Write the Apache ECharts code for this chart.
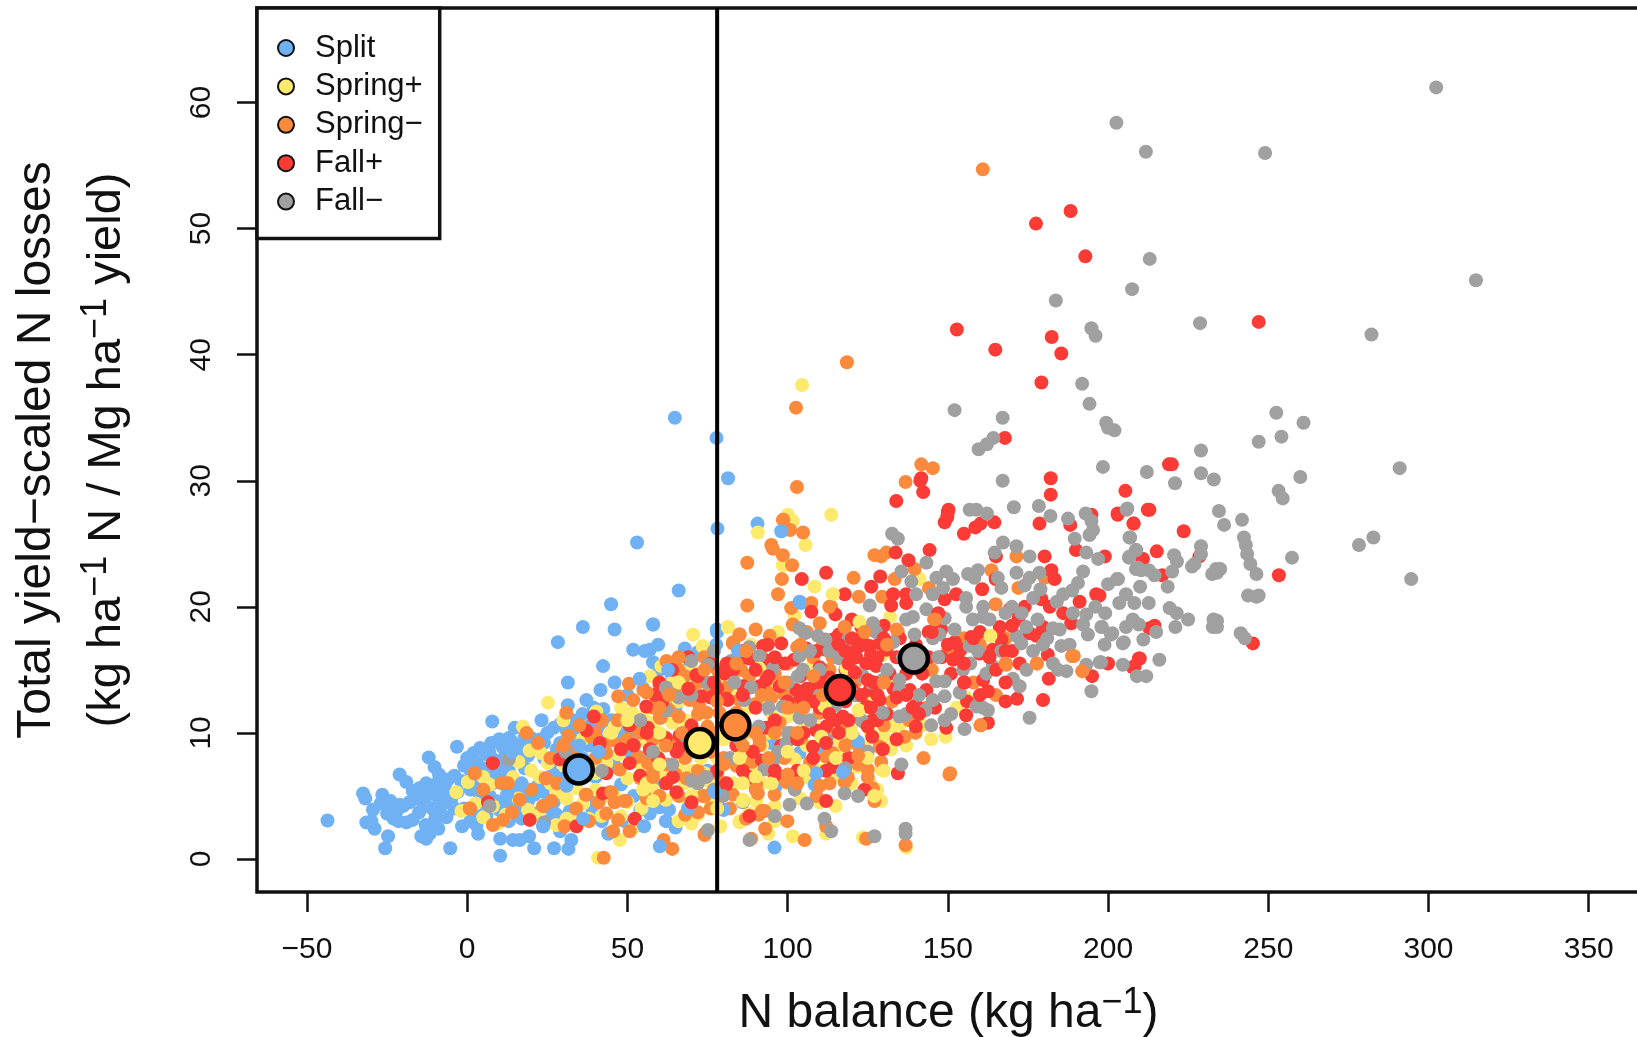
<!DOCTYPE html>
<html><head><meta charset="utf-8">
<style>html,body{margin:0;padding:0;background:#fff;overflow:hidden}#c{width:1637px;height:1037px}</style>
<script src="https://cdn.jsdelivr.net/npm/echarts@6/dist/echarts.min.js"></script>
</head><body><div id="c"></div>
<script>
const xTicks=[-50,0,50,100,150,200,250,300,350];
const yTicks=[0,10,20,30,40,50,60];
const nBalanceThreshold=78;
const seriesNames=['Split','Spring+','Spring−','Fall+','Fall−'];
const means=[[34.8,7.1],[72.6,9.2],[83.7,10.6],[116.3,13.4],[139.4,15.9]];
const split=[[-43.6,3.05],[-32.5,5.2],[-31.8,4.8],[-31.5,2.9],[-28.9,2.4],[-29.9,3],[-26.5,5.1],[-29.4,3.9],[-24.7,1.8],[-25.6,.85],[-21.1,6.7],[-19,6.1],[-21,4.3],[-22,3.8],[-20,4.2],[-18,4.5],[-23,3.2],[-19,2.9],[-17,3.1],[-21.5,3],[-16,4.8],[-14,4.6],[-15,3.7],[-12.8,6],[-12,8.05],[-10.2,7.3],[-8.8,6.7],[-3.2,8.9],[-5.3,.85],[-12.8,1.6],[-14.3,1.8],[-11.7,2],[-13,2.7],[-9,2.4],[-8,3.5],[-11,4],[-9.5,5],[-7,5.7],[-6,6.3],[-4,6.6],[-12,5.2],[-10,5.9],[-7.5,4.4],[-5,4.7],[-3,5.3],[-6.5,3.3],[-1.6,2.6],[3.4,2],[2.9,2.7],[10.3,1.6],[14.3,1.5],[16.4,1.5],[19.3,1.8],[10.3,.25],[20.9,.85],[27.1,.85],[31.6,.8],[32.5,1.5],[23.7,2.6],[7.8,10.9],[23.2,11],[14.8,10.4],[7.5,9.2],[10,9.5],[13,9.6],[28.3,17.2],[36.1,18.4],[46,18.2],[58,18.6],[51.8,16.6],[55.4,16.5],[57,16.6],[59.6,17],[67.9,16.7],[68.9,15.8],[42.4,15.3],[31.4,14],[41.6,13.4],[31.4,12.2],[37.2,12.6],[39.5,12],[42.5,11.9],[0,8],[2,8.4],[3,7.6],[5,7.1],[4,6],[1,5.5],[6,8.3],[9,7.8],[12,8.4],[15,8],[17,9],[20,9.6],[22,9.4],[25,10],[27,10.4],[29,10.7],[32,9.5],[34,9],[36,8],[38,9],[28,8.7],[24,8],[18,7.2],[13,7],[10,6.7],[8,6],[7,5],[5,4.2],[3,3.6],[10,3.9],[12,4.4],[15,4],[18,5.5],[21,5.1],[24,5.3],[26,4],[28,3.5],[30,6.4],[33,5.8],[36,3.2],[38,5],[40,6.5],[44,9.6],[47,9.8],[50,8.6],[53,7.8],[48,5.9],[54,3.9],[57,3.6],[60,4.1],[63,3.9],[64.8,35],[77.8,33.4],[81.4,30.2],[78.1,26.2],[53,25.1],[66,21.3],[44.9,20.2],[104.2,20.3],[58,18.6],[78,18],[77.9,18.2],[77.7,17],[90.6,26.6],[72,16.4],[65,12],[70,8.5],[75,7],[80,3.9],[76.7,5.4],[95.9,.9],[60,15],[85,10],[90,8],[94.9,9.2],[96.4,5.8],[94.4,11.8],[103.7,8.4],[110,8.9],[-27,4.4],[-24,4.6],[-25,3.6],[-17,5.4],[-15,5.6],[-13,4.3],[-10,3.2],[-8,4.4],[-6,5.2],[-4,4],[-2,6.2],[-1,7.4],[1,7],[2,6.4],[4,8.8],[6,7.2],[7,8.4],[8,6.8],[11,8.9],[12,7.2],[14,9.3],[16,8.5],[18,9.7],[19,8.2],[21,8.7],[23,9.5],[24,9.2],[26,7.5],[27,6.7],[29,9.2],[31,10.2],[33,11],[34,10],[36,11.5],[38,10.5],[40,10.8],[41,11.4],[43,10.5],[45,11],[47,11],[49,10],[51,9.5],[4,4.9],[6,3.4],[9,4.6],[13,3],[15,5.5],[17,3.2],[19,4.6],[21,3.6],[22,5.8],[25,3],[27,4.5],[29,2.2],[32,3.8],[34,6.5],[37,7],[39,4],[42,3],[44,2],[46,7.4],[49,3],[52,5],[55,8],[58,7.5],[60,6],[62,3],[65,2.5],[55,13.5],[50,13],[46,14],[64,14.5],[58,15.6],[-1,4],[1,3]];
const springPlus=[[25.2,12.4],[70.5,17.8],[81.4,18.4],[73.6,16.8],[65.3,15.5],[60.6,15.3],[57,14.5],[17.4,10.5],[19.5,8.6],[25.2,7.6],[.2,6.1],[-1.8,3.8],[-3.4,5.3],[2.6,4.4],[14.3,6.5],[22.6,6.5],[27.8,5.3],[30.9,4.8],[36.2,4.4],[19,3.9],[9.6,2.8],[27.8,2.7],[33,3],[40.3,11.7],[44.5,10],[51.5,11.6],[61.1,9.8],[60.1,8.9],[47.1,8.3],[43.4,7.6],[55.9,6],[58,5.5],[54.9,5.5],[54.4,4],[47.6,1.5],[41.9,3.4],[68.9,4.7],[82.5,7.9],[86.1,4.7],[85,2.9],[40.8,.1],[113.6,27.3],[100.1,27.3],[101.6,26.8],[90.7,25.9],[105.6,24.9],[98.5,23.3],[108.4,21.6],[114.1,21],[102.2,19.3],[122.4,18.8],[132,19.2],[81.3,18.4],[97,18],[73.5,16.9],[91.2,15.1],[118.3,15.1],[129.7,16.2],[141.2,22.2],[163.3,17.7],[152.8,12],[155.7,12.8],[144.3,14.9],[111.5,12.1],[122.2,11.8],[132.9,10.5],[137,9],[144.8,9.5],[149.3,9.7],[142.2,10.6],[110.5,9.7],[116.2,9.4],[104.8,10.2],[95.4,11.3],[90.2,12.1],[116.2,8.4],[118.3,8.1],[102.2,7.9],[86,6],[86,4.6],[90.2,4.6],[81.9,7.7],[129.2,7.1],[125.6,6.1],[129.2,4.6],[132.3,8.7],[85,3],[101.6,1.8],[112,2],[137,.9],[123.5,1.7],[104.5,37.6],[88,12],[84,13.5],[79,14.5],[75,13],[68,11],[64,10.8],[70,7],[66,7.3],[62,6.5],[72,5.3],[76,4.2],[79,2.6],[92,9],[96,7],[100,6],[106,6.5],[110,4.5],[115,4.2],[120,6],[108,15.5],[113,13.5],[120,13],[126,10],[88,8.5],[80,9.5],[75,10],[59,12.5],[55,11.2],[50,6.4],[46,5],[40,5.5],[38,7.4],[36,9.5],[33,7.3],[30,11],[23,8.4],[16,4.8],[12,3.5],[7,5.9],[5,3.3],[88.5,17],[94,14],[40,6.8],[42,9],[46,10.5],[48,12],[52,9],[54,7.5],[56,9.3],[58,10.8],[62,12.8],[64,14],[66,12.5],[68,14.8],[70,15],[72,11.5],[74,9],[76,6],[78,4.6],[80,11],[82,13],[84,10],[86,8],[88,3.6],[90,6.8],[92,12.5],[94,10],[96,4.2],[98,8.6],[100,11.3],[102,13],[104,4.8],[106,9],[108,11],[110,7],[112,14],[114,6.5],[116,12.6],[118,9.5],[120,10.7],[122,7.3],[124,9],[126,12.6],[128,5.5],[130,9.7],[133,14],[135,10.7],[140,12],[50,4.5],[52,2.5],[48,3.4],[44,5],[60,7],[62,4.7],[66,3],[68,6],[72,3.5],[74,6.8],[70,2.8],[92,6],[96,3],[94,2],[78,8],[83,6],[88,10],[30,7.5],[26,6],[20,7],[16,7.7],[34,5.6],[38,3.2],[31,3.2],[22,3.4],[8,4.2],[5,6.5]];
const springMinus=[[160.9,54.7],[118.5,39.4],[102.6,35.8],[102.9,29.5],[141.7,31.3],[145.3,31],[136.8,29.9],[98.5,26.9],[100.8,26.1],[104.8,25.9],[94.9,24.9],[98.5,24.1],[101.4,23.3],[87.4,23.5],[98.2,22.2],[97,21],[120.6,22.3],[87.4,20.1],[129.2,24],[127.1,24.1],[130.8,24.3],[139.6,23],[133.4,22.2],[163.6,22.9],[144.1,21.5],[122.2,20.8],[129.5,20.8],[164.9,20.2],[180.2,22.3],[188.8,16.1],[192,14.9],[177.8,15.5],[168.2,15.4],[160.2,10.6],[142.4,8],[150.7,6.8],[139.9,10],[136.5,9.7],[143.3,12],[132.6,12.5],[134.4,18],[145.7,19],[123.5,17.8],[117.8,18.4],[113.6,20],[110,18.7],[107.4,20.3],[101.1,19.9],[101.6,18.6],[85,17.8],[82.9,17.1],[94.4,17.7],[85.5,15],[90.7,15],[93.8,13.2],[94.9,12.8],[101.6,12.1],[110,14.6],[113.1,15],[115.2,14],[110,11.6],[117.2,10.5],[120.4,9.7],[104.2,9.6],[97.5,10.8],[91.2,9.5],[74.1,1.9],[88.6,1.6],[105.3,1.5],[99.9,3],[112,2.6],[124.5,1.6],[136.8,1.1],[92.8,3.8],[91,3.5],[127.1,4.6],[126.6,5.6],[125,7.1],[129.2,7.7],[128.7,8.9],[95.9,5.1],[90.2,5.9],[90.7,5.2],[82.9,5.1],[74.1,5],[86,7.2],[105.8,7.1],[103.2,6.7],[99.6,6.1],[113.1,6],[117.8,6.1],[112,8.1],[118.8,6.5],[91.2,9],[77.7,10],[78.7,11.6],[85,12.6],[72.5,12.1],[75.6,13.7],[50.5,13.9],[47.1,12.9],[51.8,12.6],[60.1,11.2],[69.4,12.6],[62.2,15.7],[64.8,13.5],[85,17.8],[83,17.2],[85,15],[30.9,11.6],[35.1,10.6],[31.5,9.8],[38.7,9.7],[29.9,8.7],[22.1,9.2],[43.4,8.4],[18.5,10],[2.3,6.8],[.8,4],[10.7,6],[12.7,6],[16.4,4.7],[24.5,6.4],[23.7,4.2],[26.3,4.6],[11.2,3.1],[30.4,2.6],[37.2,5.1],[44.5,5.3],[47.6,7.1],[49.5,4.6],[43.4,3.6],[47.1,3.1],[45.5,2.2],[50.7,2.2],[56.4,7.6],[53.3,8.1],[62.2,7.5],[62.2,6],[68.4,6.4],[73.6,5],[63.2,9.3],[60.4,11.2],[74.1,2],[61.3,1.5],[64,.8],[42.6,.1],[70,13.5],[74.7,11.6],[150.5,6.7],[189.3,16.1],[171.4,24],[95.4,24.6],[98.7,26.9],[172,21.5],[160,17],[120,15],[128,13],[122,9],[113,10],[80,8],[72,7],[66,8.5],[58,9.5],[54,10],[47,11],[40,8],[78,6.8],[82,4],[68,3.5],[56,4.8],[106,13],[100,15.5],[90,18.2],[86,10],[76,8.5],[66,11.3],[42,11],[45,9.4],[49,9.2],[52,10.5],[55,13.4],[58,12],[60,13.8],[63,11.8],[66,15],[68,14.5],[72,14],[74,16],[78,15],[81,13.6],[84,11.6],[88,14.5],[90,12.3],[92,16],[96,14.7],[99,13],[103,16.8],[106,18],[108,16],[111,17],[114,16],[118,13],[121,14],[124,10.8],[130,10.6],[134,13],[138,11],[141,15],[145,15],[150,16.5],[155,17.5],[158,14],[165,13],[168,17.5],[95,10.5],[99,8],[101,10],[107,7.7],[109,5],[114,8.4],[122,7.5],[89,7.7],[84,7.4],[80,6],[76,4],[72,9.5],[68,8],[65,6.7],[60,5],[58,7],[54,6.4],[50,9.5],[46,4.5],[41,4.5],[38,3],[34,4],[28,6],[20,5.5],[14,3.7],[8,2.7],[5,5.5],[26,8],[33,8.5],[40,10],[87,3.2],[93,2.4],[72,3.7],[66,5]];
const fallPlus=[[133.9,28.4],[150,27.5],[149,26.7],[155,25.8],[160.2,26.6],[178.6,26.6],[188.2,26.5],[194.8,27.3],[203,27.4],[208,26.6],[212.4,27.7],[133.7,24.3],[137.7,23.7],[144.3,24.5],[112,22.7],[104.4,22.2],[128.9,22.4],[126.1,21.6],[117.8,21],[137,21],[132.3,20.1],[164.9,22.2],[160.7,21.4],[180.2,24],[182.3,22.9],[183.3,22.2],[191.1,20.4],[196.3,21],[210.9,23.8],[179.2,20.6],[181.8,20],[188.5,18.7],[179.7,18.4],[175.5,17.9],[177.6,17.7],[181.2,16.2],[181.5,14.3],[179.7,12.6],[171.6,12.7],[172.4,15.5],[162.5,13.3],[161,14.2],[155.2,14],[151,14.7],[157.3,17.6],[152.1,17.2],[149.5,10.4],[162.5,10.8],[155.7,11.4],[134.4,6.8],[114.1,7.3],[95.9,6.6],[89.1,8.5],[80.8,5.9],[88.1,3.4],[126.4,9.7],[140.1,12.2],[209.9,15.9],[208.3,15.3],[219,31.3],[205.4,29.2],[203,27.3],[212.9,27.7],[207.9,26.6],[223.6,26],[215.2,24.4],[210.6,23.8],[228.5,24],[216.9,22.5],[253.3,22.5],[197.3,20.9],[212.9,18.3],[214.5,18.5],[209.6,15.9],[207.7,15.2],[245.2,17.1],[114.9,19.4],[107.4,19.6],[122.4,17.4],[125.6,16.9],[128.7,17.1],[121.4,16],[124.5,15.5],[127.6,15.3],[130.8,16.6],[114.1,17.4],[112,16.6],[105.8,16.7],[102.7,13.4],[106.8,12.9],[108.4,13.7],[112,10.5],[107.9,8.9],[108.9,10.2],[117.2,11.3],[126.6,11],[124.5,12.1],[125.6,13.4],[128.7,12.6],[131.8,14.7],[138.1,13.4],[143.3,13.4],[137,14.7],[132.9,21],[137,20.3],[149,20.6],[152.6,21],[147.9,18.2],[151.6,15.8],[166.2,18.4],[166.7,17.4],[169.3,19.8],[164,16.6],[159.9,16.3],[88.1,15.9],[93.8,17],[98,17.1],[92.3,16.9],[80.3,14.7],[93.3,14.2],[81.3,12.6],[93.3,10.4],[129.7,8.7],[91.2,13.7],[97.5,13.7],[8,7.6],[6.5,4.5],[39.5,11.3],[71.5,14.6],[58.5,13],[50.7,10.6],[56.4,10.4],[51.8,9.05],[50.7,7.6],[65.3,5.3],[52.3,3.2],[80.9,6],[80.4,14.9],[73.1,12.9],[80.9,12.7],[87.1,16],[86.1,13.7],[66.3,9.8],[65.3,8.5],[43.4,6.8],[42.4,5.2],[64.2,6.5],[59.6,8],[57,8.7],[28.9,7.9],[19.5,3.1],[34.1,2.6],[55.9,12.1],[37.2,10.2],[41.4,9.2],[177.5,50.4],[188.3,51.4],[192.9,47.8],[247,42.6],[152.8,42],[182.4,41.4],[164.8,40.4],[185.4,40.1],[179.2,37.8],[167.8,33.4],[141.7,30.2],[141.4,30],[142.3,29.1],[182.1,30.2],[182.1,28.9],[219.9,31.3],[149.8,27.1],[150.2,27.7],[158.6,26.3],[164.5,26.7],[118,15],[120,13.5],[131,11.5],[134,16],[140,17],[144,16],[146,12],[120,19],[110,15.2],[100,12.5],[86,11],[76,12.8],[70,10.6],[88,6.5],[112,4.6],[119,8],[60,14],[64,15],[69,16],[76,15.5],[78,13.5],[83,15],[86,16.5],[90,12],[94,15.7],[96,11],[99,15.5],[102,15.8],[104,14.5],[109,16.5],[113,14.4],[116,17.8],[119,16.4],[123,18.4],[126,18.2],[130,18.5],[133,13.5],[135,17.5],[128,11],[122,13],[118,12.5],[115,11],[110,12],[105,10],[98,9],[92,7.8],[84,9],[78,7],[70,8.8],[62,9.6],[54,6.6],[48,8.7],[144,18],[148,16],[154,16.6],[156,12.5],[142,14.7],[140,10.5],[134,9.5],[170,16.5],[168,12.5],[172,19],[160,18],[165,24],[174,20],[186,19.5],[195,14.5],[200,15.5],[190,24.5],[199,24],[86,7],[103,7],[124,5.5],[112,7]];
const fallMinus=[[302.4,61.2],[202.6,58.4],[211.8,56.1],[249,56],[213,47.6],[207.5,45.2],[314.8,45.9],[183.7,44.3],[228.7,42.5],[282.2,41.6],[194.8,42.1],[196.1,41.5],[191.9,37.7],[194.2,36.1],[152.1,35.6],[167.1,35],[199.4,34.6],[200,34.2],[202,34],[252.5,35.4],[261,34.6],[254.1,33.5],[247,33.1],[229,32.4],[233,30.1],[229,30.6],[159.6,32.5],[162.2,32.9],[164.2,33.4],[198.4,31.1],[212.1,30.7],[167.1,30],[291,31],[260,30.3],[253.2,29.2],[254.5,28.6],[220.9,29.8],[278.3,24.9],[282.8,25.5],[294.6,22.2],[257.4,23.9],[234.6,27.6],[236.2,26.5],[241.8,26.9],[242.4,25.5],[243,24.9],[243.4,24.2],[244.4,23.4],[246.3,22.6],[234,22.7],[235,23],[227,23.4],[220.6,24.1],[229,24.8],[229,24.2],[241.4,17.9],[242.7,17.5],[234,18.9],[234,18.4],[243.7,20.9],[246.3,20.8],[247,20.9],[205.8,27.7],[206.7,25.5],[208.7,24.5],[206.5,23.9],[221.5,23.6],[220,22.8],[226.2,23.2],[233.7,23],[232.5,22.6],[208.7,23],[210.3,22.9],[212.7,22.9],[214.5,22.5],[202.8,22.2],[218.6,21.6],[205.6,21],[203.5,20.3],[208.2,20.3],[212.7,20.3],[219.2,19.9],[221.4,19.5],[199.1,19.5],[198.1,18.4],[207.7,19],[205.6,18.4],[209.6,18.6],[232.9,19],[232.7,18.4],[221,18.4],[200.9,17.8],[198.9,17],[204.6,17.1],[211,17.4],[216,15.8],[197.8,15.6],[204.6,15.4],[209,14.5],[211.9,14.5],[132.6,25.8],[134.4,25.4],[156.8,27.7],[158.9,27.7],[162.2,27.4],[170.6,27.9],[178.4,28],[182,27.2],[187.5,27],[193,27.4],[194.8,26.8],[195.3,26.1],[194.2,25.7],[189.6,25.4],[206.9,25.5],[206,27.8],[208.8,24.5],[206.7,24],[209.3,23.1],[167.2,25.1],[164.6,24.3],[171.4,24.8],[175.5,24],[171.4,22.7],[175.5,22.3],[174,21.7],[178.6,22.7],[176.6,20.7],[178.9,21.4],[184,20.4],[192.2,22.8],[190.6,21.9],[188.8,21.3],[193.2,24.3],[196.9,23.8],[203.1,22.2],[193.2,19.4],[192.2,18.6],[197.9,18.4],[193.7,17.8],[201.3,17.9],[204.9,17.2],[193.2,15.4],[197.4,15.6],[182.8,18.3],[184.9,18.2],[174.5,18.4],[171.4,17.7],[172.9,17.1],[176.6,16.5],[179.7,17],[185.4,16.9],[188,17],[182.8,15.5],[187,14.9],[184.4,15],[175.5,11.2],[194.8,13.3],[170.3,14.3],[172.4,13.7],[174.5,15],[164,15.3],[162,14.7],[159.4,16.5],[156.8,16.9],[166.7,16.5],[158.9,12.1],[161,12],[162.5,11.8],[155.2,10.3],[149,11],[144.8,10.6],[153.7,13.2],[149,12.9],[145.3,12.6],[146.4,14.1],[149,14.1],[154.7,15],[134.9,14.2],[134.9,13.4],[129.7,14.2],[139.6,17.8],[147.4,17.8],[145.3,17.5],[152.1,18.2],[149,19.1],[143.3,19.8],[139.1,19.2],[137,19],[155.7,20.7],[155.7,20],[161,20],[161,19.2],[163,19],[157.8,19],[166.7,21.5],[165.6,22.3],[149.5,22.8],[151.6,22.2],[146.4,22.3],[148.5,21.5],[145.3,21],[156.3,22.6],[159.4,22.9],[158.3,22.3],[143.3,23.5],[135.5,22.8],[138.6,22],[140.1,21],[125.6,20.1],[126.6,18.7],[127.6,18],[105.3,17.9],[103.7,18.3],[109.4,17.7],[111.8,17.4],[103.7,16.1],[104.8,15],[103.2,14.5],[117.2,16.3],[116.2,15.9],[123.5,14.5],[129.7,11.6],[123,11],[134.9,11.3],[100.1,10],[98.5,12.1],[99.6,9.2],[103.7,11.2],[86.5,12.6],[83.4,14],[88.6,13.6],[82.4,15.7],[95.4,15.1],[91.2,16.1],[75.1,15.4],[74.6,6.5],[79.8,5],[92.8,7.1],[95.4,7.7],[102.2,5.5],[100.6,4.3],[117.8,5.2],[111.5,3.2],[113.6,2.2],[127.1,1.8],[136.8,2.4],[136.8,2],[135.5,7.5],[125,8.5],[88.1,1.5],[75.1,2.3],[62,13.6],[70,15.7],[75,14],[76,9],[62,11.8],[42,7],[33,6.9],[24,2.9],[13,7.9],[7,4.2],[70,6.2],[54,11],[30.7,8.5],[107,16.5],[110,15],[113,16.5],[119,17.5],[121,13],[115,12.2],[110,13],[107,11],[112,9.5],[118,7.2],[122,5],[126,14],[131,15],[133,17.2],[136,16],[137,11.5],[141,13],[143,11.8],[147,16],[151,11.5],[157,15.5],[168,19.5],[170,20],[173,19.5],[178,19],[181,17.5],[186,21],[189,19.5],[196,20],[200,21.8],[210,21.6],[215,18],[225,19],[94,12],[97,8.5],[91,10.5],[85,9.5],[82,8],[77,5.5],[72,6],[68,9],[64,7.5],[58,8.5],[86,4.5],[88,16.8],[77,16.5],[70,13],[66,12.8],[80,10.5],[100,14],[106,4.4],[96,3.4]];
const splitTop=[[98,26],[103.7,20.4],[84.5,16.5],[108.9,6.8],[108.4,5.9],[117.2,6.9],[121.9,9.3],[62.7,15],[53.8,14.3],[77.3,5.3],[80,3.9],[68.9,4],[60.1,1],[55.2,2.6],[12.4,5.1],[23.7,2.6],[36.2,3.2],[17,6],[14,8.5],[35,9],[31,5.8],[41,8.5]];
const springPlusTop=[[122.4,18.8],[114.1,21],[118.3,15.1],[163.3,17.7],[91.2,15.1],[111.5,12.1],[122.2,11.8],[110.5,9.7],[86,6],[86,4.6],[56,6],[58,4.6],[45,10],[60,10],[73,8],[66,14],[105,7],[100,8.5],[95,6],[90,6.5],[85,8],[115,8],[127,5],[130,7],[125,8],[120,10],[78,4],[70,5],[55,5.5],[60,7.5],[50,11],[80,10]];
const fallPlusTop=[[116,17],[118,16.5],[120,17.5],[122,16.8],[124,17],[126,16.2],[128,16],[130,17.5],[119,15.5],[121,14.8],[125,14.2],[127,14],[128,13],[123,13],[126,12],[106,13.5],[108,12.5],[104,12.8],[110,14],[113,11.5],[115,12.8],[134,12.8],[137,13],[139,12],[141,11.5],[116,10],[112,9.2],[119,11],[125,10.5],[145,18],[150,17],[153,16],[155,15.5],[158,17.5],[163,16],[165,15],[168,16.5],[170,18.5],[168,14],[160,13],[155,14],[147,19.5],[94,14.5],[96,16],[90,15],[86,13],[81,15.5],[77,14],[72,14.5],[69,13.5],[61,12.5],[56,10],[52,9],[66,8.8],[62,6],[70,4.5],[96,7],[103,9.5],[108,8]];
const springMinusTop=[[100,12],[103,10],[96,10],[105,12],[111,13],[108,14.5],[114,14],[104,17],[99,14],[92,13],[90,10],[86,9],[80,7.5],[75,10.5],[72,11.5],[67,10],[62,9],[58,6.5],[63,13],[60,12],[56,13.2],[66,16],[74,15],[78,12.5],[84,15.5],[87,16.5],[94,8],[100,6.7],[110,5.8],[118,9],[122,8.2],[125,6.5],[130,14],[134,18.2],[131,17],[124,18],[146,19],[168,15.5],[188.8,16.1],[192,14.9],[177.8,15.5],[160.2,10.6],[113,20],[117.8,18.4],[103,6],[90,5.5],[92,3.8],[49,4.6],[45,5.3],[37,5.1],[24.5,6.4],[30,9],[35,10.6],[12,6],[23.7,4.2],[2.3,6.8],[.8,4]];
const colors=['#6FB1F2','#FDE96C','#FC8A3C','#FB3B36','#A0A0A0'];
const lists=[split,springPlus,springMinus,fallPlus,fallMinus];
const FF='"Liberation Sans",Arial,sans-serif';
const scatter=(name,data,color)=>({type:'scatter',name,data,symbolSize:14,z:2,silent:true,itemStyle:{color,opacity:1}});
const series=seriesNames.map((n,i)=>scatter(n,lists[i],colors[i]));
series.push(scatter('Split',splitTop,colors[0]));
series.push(scatter('Spring+',springPlusTop,colors[1]));
series.push(scatter('Fall+',fallPlusTop,colors[3]));
series.push(scatter('Spring−',springMinusTop,colors[2]));
series.push({type:'line',name:'threshold',data:[[nBalanceThreshold,-2.62],[nBalanceThreshold,67.5]],symbol:'none',silent:true,z:3,lineStyle:{color:'#000',width:4}});
means.forEach((m,i)=>series.push({type:'scatter',name:seriesNames[i]+' mean',data:[m],symbolSize:28,z:4,silent:true,itemStyle:{color:colors[i],borderColor:'#000',borderWidth:4.5,opacity:1}}));
const chart=echarts.init(document.getElementById('c'),null,{renderer:'canvas'});
chart.setOption({
 animation:false,backgroundColor:'#fff',
 grid:{left:257,top:8,width:1383,height:884,show:true,borderColor:'#111',borderWidth:3.5,backgroundColor:'transparent',containLabel:false,outerBoundsMode:'none'},
 legend:{data:seriesNames,orient:'vertical',left:257,top:8,z:10,backgroundColor:'#fff',borderColor:'#111',borderWidth:3.5,borderRadius:0,
  padding:[22,17,19,20],itemWidth:16,itemHeight:16,itemGap:2.4,icon:'circle',selectedMode:false,
  itemStyle:{borderColor:'#111',borderWidth:2},
  textStyle:{fontFamily:FF,fontSize:31,color:'#111',lineHeight:31,padding:[5,0,0,16]}},
 xAxis:{type:'value',min:-65.6,max:366,splitLine:{show:false},
  axisLine:{show:false,onZero:false},axisTick:{show:true,length:20,lineStyle:{color:'#111',width:2.5},customValues:xTicks},
  axisLabel:{customValues:xTicks,fontFamily:FF,fontSize:30,color:'#111',margin:43,formatter:v=>String(v).replace('-','−')},
  name:'{a|N balance (kg ha}{s|−1}{a|)}',nameLocation:'middle',nameGap:93,
  nameTextStyle:{rich:{a:{fontFamily:FF,fontSize:48,color:'#111',lineHeight:56},s:{fontFamily:FF,fontSize:36,color:'#111',padding:[0,0,22,0]}}}},
 yAxis:{type:'value',min:-2.62,max:67.5,splitLine:{show:false},
  axisLine:{show:false,onZero:false},axisTick:{show:true,length:20,lineStyle:{color:'#111',width:2.5},customValues:yTicks},
  axisLabel:{customValues:yTicks,rotate:90,fontFamily:FF,fontSize:30,color:'#111',margin:40},
  name:'{b|Total yield−scaled N losses}\n{a|(kg ha}{s|−1}{a| N / Mg ha}{s|−1}{a| yield)}',nameLocation:'middle',nameRotate:90,nameGap:115,
  nameTextStyle:{rich:{b:{fontFamily:FF,fontSize:48,color:'#111',lineHeight:70},a:{fontFamily:FF,fontSize:47,color:'#111',lineHeight:70},s:{fontFamily:FF,fontSize:36,color:'#111',padding:[0,0,22,0]}}}},
 series
});
</script></body></html>
